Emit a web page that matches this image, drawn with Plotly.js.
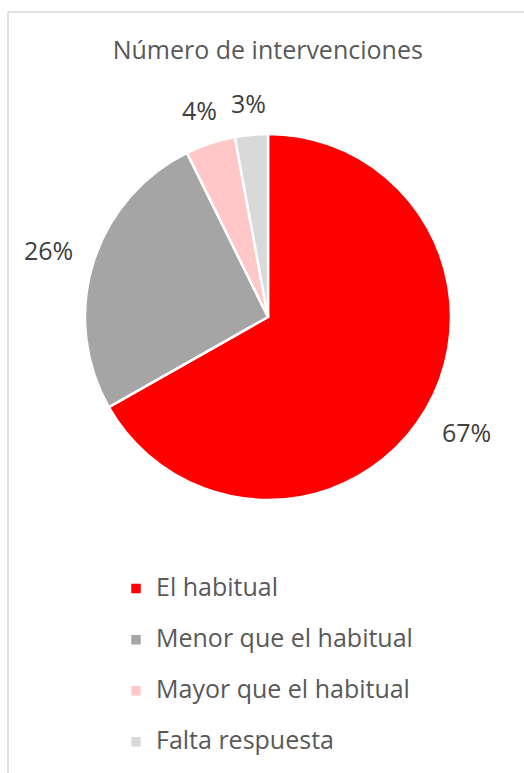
<!DOCTYPE html>
<html>
<head>
<meta charset="utf-8">
<script src="https://cdn.plot.ly/plotly-3.0.1.min.js"></script>
<style>html,body{margin:0;padding:0;background:#fff;}#chart{width:524px;height:773px;}</style>
</head>
<body>
<div id="chart"></div>
<script>
const categories = ["El habitual", "Menor que el habitual", "Mayor que el habitual", "Falta respuesta"];
const values = [66.8, 25.9, 4.4, 2.9];
const colors = ["#ff0000", "#a5a5a5", "#ffc7c7", "#d9d9d9"];
const chartTitle = "Número de intervenciones";

const W = 524, H = 773;
const CX = 268, CY = 317, R = 183;      // pie centre and radius in pixels
const FONT = "Open Sans, sans-serif";
const LABEL_SIZE = 25;

const total = values.reduce((a, b) => a + b, 0);
let cum = 0;
const annotations = values.map(v => {
  const frac = (cum + v / 2) / total;
  cum += v;
  const th = 2 * Math.PI * frac;
  const txt = Math.round(100 * v / total) + "%";
  const hw = txt.length * 0.33 * LABEL_SIZE + 1;
  const hh = 12;
  const d = R + 18 + Math.abs(Math.sin(th)) * hw + Math.abs(Math.cos(th)) * hh;
  return {
    text: txt, showarrow: false, xref: "paper", yref: "paper",
    x: (CX + d * Math.sin(th)) / W, y: 1 - (CY - d * Math.cos(th)) / H,
    xanchor: "center", yanchor: "middle",
    font: {family: FONT, size: LABEL_SIZE, color: "#404040"}
  };
});

const trace = {
  type: "pie",
  labels: categories.map(c => '<span style="font-size:25px">' + c + '</span><br> '),
  values: values,
  sort: false,
  direction: "clockwise",
  rotation: 0,
  marker: {colors: colors, line: {color: "#ffffff", width: 2.5}},
  textinfo: "none",
  textposition: "none",
  domain: {x: [(CX - R) / W, (CX + R) / W], y: [1 - (CY + R) / H, 1 - (CY - R) / H]},
  hoverinfo: "none"
};
const layout = {
  width: W, height: H,
  margin: {l: 0, r: 0, t: 0, b: 0, autoexpand: false},
  paper_bgcolor: "#ffffff",
  title: {text: chartTitle, x: 0.511, xanchor: "center", y: 1 - 50 / H, yanchor: "middle",
          font: {family: FONT, size: 25, color: "#595959"}},
  showlegend: true,
  legend: {x: 116 / W, xanchor: "left", y: 1 - 570 / H, yanchor: "top", valign: "top",
           font: {family: FONT, size: 18.5, color: "#595959"},
           itemclick: false, itemdoubleclick: false},
  annotations: annotations,
  shapes: [
    {type: "line", xref: "paper", yref: "paper", x0: 8 / W, x1: 1, y0: 1 - 12 / H, y1: 1 - 12 / H, line: {color: "#d9d9d9", width: 1.5}},
    {type: "line", xref: "paper", yref: "paper", x0: 8 / W, x1: 8 / W, y0: 1 - 12 / H, y1: 0, line: {color: "#d9d9d9", width: 1.5}}
  ]
};
Plotly.newPlot("chart", [trace], layout, {displayModeBar: false, staticPlot: true});
</script>
</body>
</html>
